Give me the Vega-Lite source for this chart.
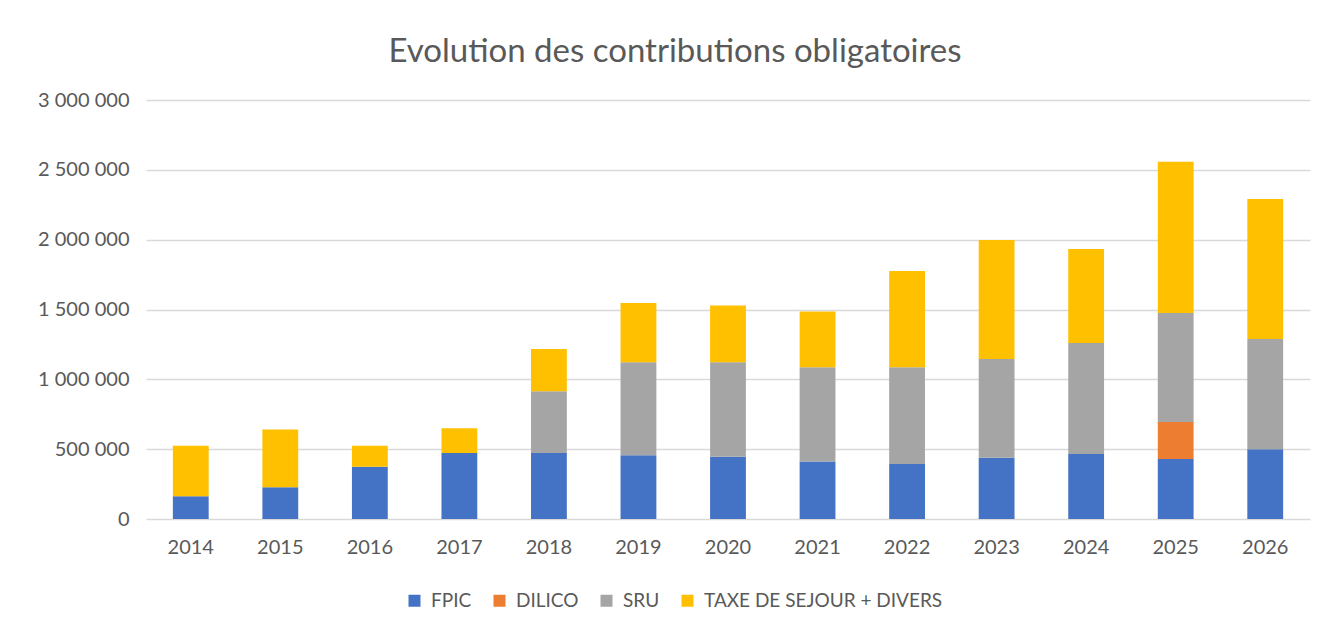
{
  "$schema": "https://vega.github.io/schema/vega-lite/v6.json",
  "width": 1164,
  "height": 419,
  "autosize": {"type": "none"},
  "padding": {"left": 146, "top": 100, "right": 9, "bottom": 113},
  "background": "white",
  "config": {
    "font": "Lato",
    "view": {"stroke": null}
  },
  "title": {
    "text": "Evolution des contributions obligatoires",
    "font": "Lato",
    "fontSize": 33,
    "fontWeight": "normal",
    "color": "#595959",
    "anchor": "middle",
    "dx": -53,
    "offset": 21
  },
  "data": {
    "values": [
      {"annee": "2014", "categorie": "FPIC", "ordre": 1, "montant": 162000},
      {"annee": "2014", "categorie": "TAXE DE SEJOUR + DIVERS", "ordre": 4, "montant": 363000},
      {"annee": "2015", "categorie": "FPIC", "ordre": 1, "montant": 227000},
      {"annee": "2015", "categorie": "TAXE DE SEJOUR + DIVERS", "ordre": 4, "montant": 413000},
      {"annee": "2016", "categorie": "FPIC", "ordre": 1, "montant": 375000},
      {"annee": "2016", "categorie": "TAXE DE SEJOUR + DIVERS", "ordre": 4, "montant": 150000},
      {"annee": "2017", "categorie": "FPIC", "ordre": 1, "montant": 473000},
      {"annee": "2017", "categorie": "TAXE DE SEJOUR + DIVERS", "ordre": 4, "montant": 176000},
      {"annee": "2018", "categorie": "FPIC", "ordre": 1, "montant": 473000},
      {"annee": "2018", "categorie": "SRU", "ordre": 3, "montant": 441000},
      {"annee": "2018", "categorie": "TAXE DE SEJOUR + DIVERS", "ordre": 4, "montant": 303000},
      {"annee": "2019", "categorie": "FPIC", "ordre": 1, "montant": 456000},
      {"annee": "2019", "categorie": "SRU", "ordre": 3, "montant": 666000},
      {"annee": "2019", "categorie": "TAXE DE SEJOUR + DIVERS", "ordre": 4, "montant": 425000},
      {"annee": "2020", "categorie": "FPIC", "ordre": 1, "montant": 446000},
      {"annee": "2020", "categorie": "SRU", "ordre": 3, "montant": 676000},
      {"annee": "2020", "categorie": "TAXE DE SEJOUR + DIVERS", "ordre": 4, "montant": 406000},
      {"annee": "2021", "categorie": "FPIC", "ordre": 1, "montant": 411000},
      {"annee": "2021", "categorie": "SRU", "ordre": 3, "montant": 675000},
      {"annee": "2021", "categorie": "TAXE DE SEJOUR + DIVERS", "ordre": 4, "montant": 399000},
      {"annee": "2022", "categorie": "FPIC", "ordre": 1, "montant": 394000},
      {"annee": "2022", "categorie": "SRU", "ordre": 3, "montant": 692000},
      {"annee": "2022", "categorie": "TAXE DE SEJOUR + DIVERS", "ordre": 4, "montant": 690000},
      {"annee": "2023", "categorie": "FPIC", "ordre": 1, "montant": 439000},
      {"annee": "2023", "categorie": "SRU", "ordre": 3, "montant": 707000},
      {"annee": "2023", "categorie": "TAXE DE SEJOUR + DIVERS", "ordre": 4, "montant": 852000},
      {"annee": "2024", "categorie": "FPIC", "ordre": 1, "montant": 465000},
      {"annee": "2024", "categorie": "SRU", "ordre": 3, "montant": 795000},
      {"annee": "2024", "categorie": "TAXE DE SEJOUR + DIVERS", "ordre": 4, "montant": 674000},
      {"annee": "2025", "categorie": "FPIC", "ordre": 1, "montant": 430000},
      {"annee": "2025", "categorie": "DILICO", "ordre": 2, "montant": 265000},
      {"annee": "2025", "categorie": "SRU", "ordre": 3, "montant": 780000},
      {"annee": "2025", "categorie": "TAXE DE SEJOUR + DIVERS", "ordre": 4, "montant": 1082000},
      {"annee": "2026", "categorie": "FPIC", "ordre": 1, "montant": 499000},
      {"annee": "2026", "categorie": "SRU", "ordre": 3, "montant": 790000},
      {"annee": "2026", "categorie": "TAXE DE SEJOUR + DIVERS", "ordre": 4, "montant": 1003000}
    ]
  },
  "mark": {"type": "bar"},
  "encoding": {
    "x": {
      "field": "annee",
      "type": "ordinal",
      "scale": {"paddingInner": 0.6, "paddingOuter": 0.3},
      "axis": {
        "title": null,
        "labelAngle": 0,
        "labelFont": "Lato",
        "labelFontSize": 20,
        "labelColor": "#595959",
        "labelPadding": 18,
        "ticks": false,
        "domain": false
      }
    },
    "y": {
      "field": "montant",
      "type": "quantitative",
      "aggregate": "sum",
      "stack": "zero",
      "scale": {"domain": [0, 3000000], "nice": false},
      "axis": {
        "title": null,
        "values": [0, 500000, 1000000, 1500000, 2000000, 2500000, 3000000],
        "labelExpr": "replace(format(datum.value, ','), /,/g, ' ')",
        "labelFont": "Lato",
        "labelFontSize": 20,
        "labelColor": "#595959",
        "labelPadding": 17,
        "ticks": false,
        "domain": false,
        "grid": true,
        "gridColor": "#d9d9d9",
        "gridWidth": 1.5
      }
    },
    "color": {
      "field": "categorie",
      "type": "nominal",
      "scale": {
        "domain": ["FPIC", "DILICO", "SRU", "TAXE DE SEJOUR + DIVERS"],
        "range": ["#4472C4", "#ED7D31", "#A5A5A5", "#FFC000"]
      },
      "legend": {
        "title": null,
        "orient": "none",
        "direction": "horizontal",
        "legendX": 259,
        "legendY": 491,
        "symbolType": "square",
        "symbolSize": 144,
        "symbolStrokeWidth": 0,
        "labelFont": "Lato",
        "labelFontSize": 19,
        "labelLimit": 500,
        "labelColor": "#595959",
        "labelOffset": 7,
        "columnPadding": 18
      }
    },
    "order": {"field": "ordre", "type": "quantitative"}
  }
}
